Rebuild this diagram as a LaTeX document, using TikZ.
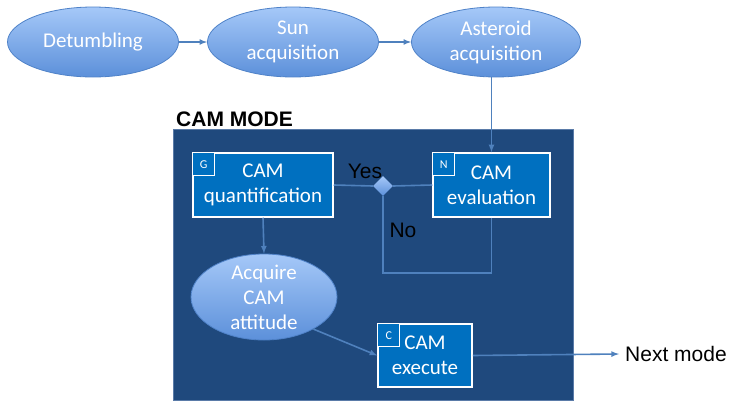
\documentclass[tikz,border=0pt]{standalone}
\usepackage{fontspec}
\setmainfont{Carlito}
\newfontfamily\arialfont{Liberation Sans}
\usepackage{tikz}
\usetikzlibrary{arrows,shapes,calc}

\definecolor{modebg}{HTML}{1F497D}
\definecolor{modeline}{HTML}{5A7BA8}
\definecolor{camblue}{HTML}{0070C0}
\definecolor{flowblue}{HTML}{4F81BD}
\definecolor{phasetop}{HTML}{A5C8F8}
\definecolor{phasebot}{HTML}{5C90DA}
\definecolor{phaseline}{HTML}{4F82C8}

\begin{document}
\begin{tikzpicture}[x=1pt,y=-1pt]
\tikzset{
	phase node/.style = {ellipse, draw = phaseline, line width = 0.8pt, top color = phasetop, bottom color = phasebot, text = white, align = center, inner sep = 0, font = \fontsize{21}{25}\selectfont},
	cam node/.style = {rectangle, draw = white, line width = 1.5pt, fill = camblue, text = white, align = center, font = \fontsize{21}{25}\selectfont},
	tag node/.style = {rectangle, draw = white, line width = 1pt, fill = camblue, text = white, anchor = north west, minimum width = 22, minimum height = 23, inner sep = 0, font = \fontsize{12}{14}\selectfont},
	flow/.style = {draw = flowblue, line width = 1.6pt, -latex},
	link/.style = {draw = flowblue, line width = 1.6pt},
	black text/.style = {text = black, font = \arialfont\fontsize{21}{25}\selectfont},
}
\useasboundingbox (0,0) rectangle (730,407);

\node(detumb)[phase node, minimum width = 171, minimum height = 70] at (93,42) {Detumbling};
\node(sun)[phase node, minimum width = 171, minimum height = 70] at (293,42) {Sun\\acquisition};
\node(aster)[phase node, minimum width = 169, minimum height = 70] at (496,42) {Asteroid\\acquisition};

\draw[flow] (detumb) -- (sun);
\draw[flow] (sun) -- (aster);

\node(mode)[rectangle, fill = modebg, draw = modeline, line width = 0.8pt, minimum width = 400, minimum height = 271] at (373,264.5) {};
\node(modelabel)[anchor = base west, inner sep = 0, text = black, font = \arialfont\bfseries\fontsize{21}{25}\selectfont] at (176,126) {CAM MODE};

\node(quant)[cam node, minimum width = 140, minimum height = 64] at (263,185) {CAM\\quantification};
\node(eval)[cam node, minimum width = 117, minimum height = 64] at (491.5,185) {CAM\\evaluation};
\node(exec)[cam node, minimum width = 94, minimum height = 63] at (425,355.5) {CAM\\execute};
\node(acq)[phase node, inner ysep = -10, minimum width = 146, minimum height = 86] at (264,297) {Acquire\\CAM\\attitude};
\node(dec)[diamond, top color = phasetop, bottom color = phasebot, minimum size = 20, inner sep = 0] at (383,186) {};

\foreach \nd/\tg in {quant/G,eval/N,exec/C} \node[tag node] at (\nd.north west) {\tg};

\draw[flow] (eval.north |- aster.south) -- (eval.north);
\draw[link] (quant.east) -- (dec.west);
\draw[link] (dec.east) -- (eval.west);
\coordinate (loop) at (383,273);
\draw[link] (eval.south) |- (loop) -- (dec.south);
\draw[flow] (quant.south) -- (acq.north);
\draw[flow] (acq.-33) -- (exec.west);

\node(yes)[black text] at (365,171) {Yes};
\node(no)[black text] at (403,230) {No};
\node(next)[black text, anchor = west, inner sep = 6] at (619,354) {Next mode};
\draw[flow] (exec.east) -- (next.west);

\end{tikzpicture}
\end{document}
